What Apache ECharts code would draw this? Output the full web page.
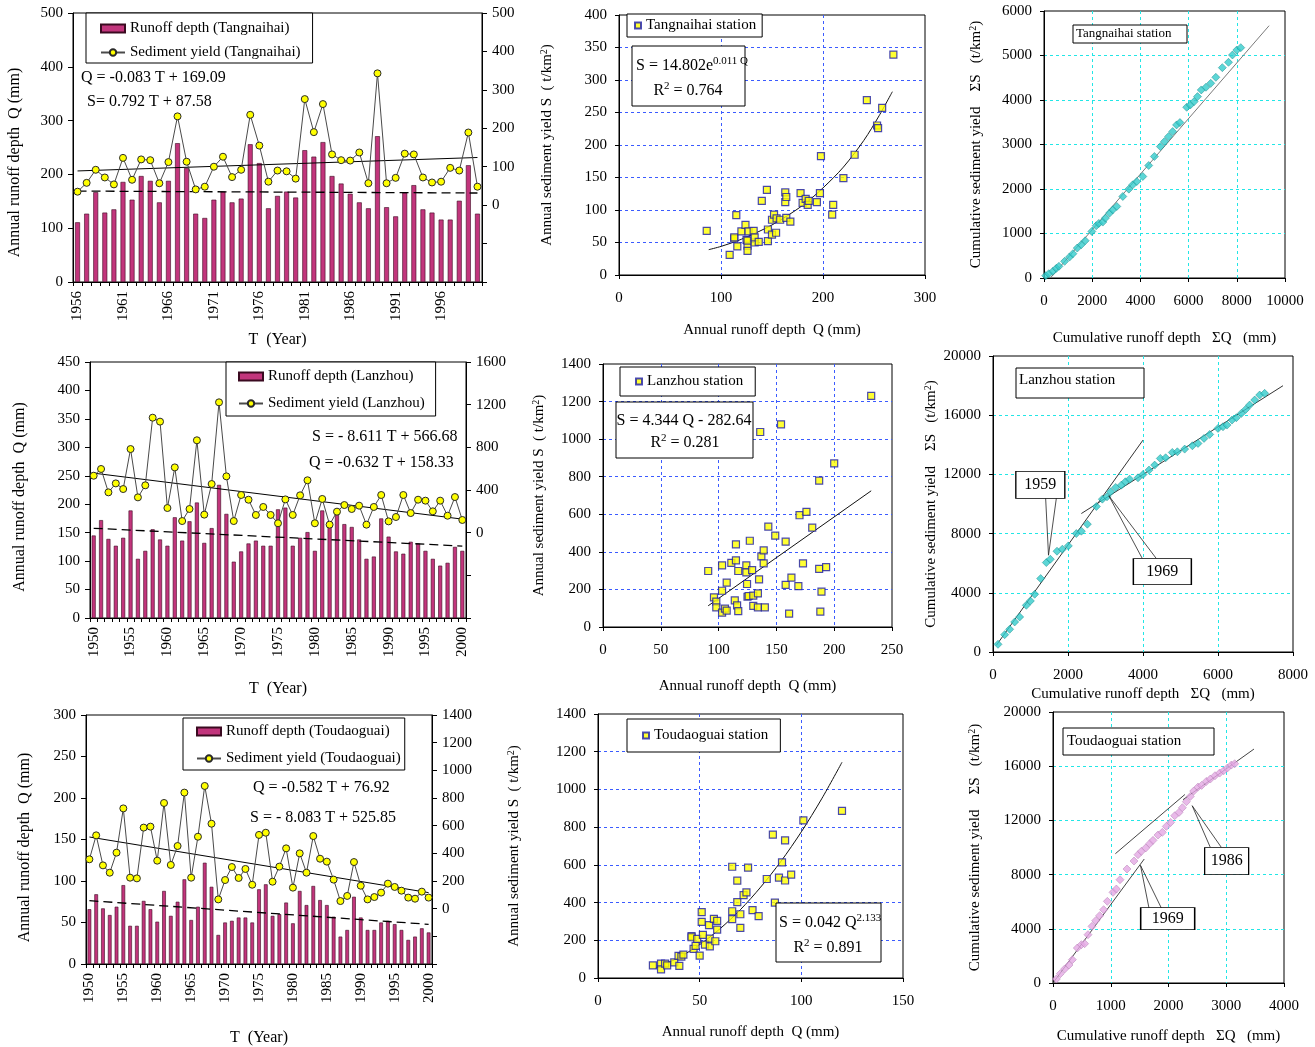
<!DOCTYPE html>
<html><head><meta charset="utf-8">
<script src="https://cdn.jsdelivr.net/npm/echarts@6/dist/echarts.min.js"></script>
<style>html,body{margin:0;padding:0;background:#fff}#c{width:1315px;height:1047px}</style>
</head><body><div id="c"></div>
<script>
// ---------------- DATA ----------------
const yearsTang = []; for (let y = 1956; y <= 2000; y++) yearsTang.push(String(y));
const yearsLan = [];  for (let y = 1950; y <= 2000; y++) yearsLan.push(String(y));

// Tangnaihai annual runoff depth (mm) and sediment yield (t/km2)
const tangQ = [111,127,167,129,135,186,153,197,188,148,188,258,212,127,119,153,168,148,155,256,221,137,160,168,157,245,233,260,197,183,164,148,137,271,139,122,166,180,135,129,116,116,151,217,127];
const tangS = [35,58,92,72,54,123,66,119,117,57,112,231,113,41,48,100,126,73,92,235,155,61,90,88,69,276,190,263,132,117,116,137,57,343,57,71,134,132,72,59,61,97,90,189,48];
const tangTrendQ = [169.0, 165.4];
const tangTrendS = [89, 124];

// Lanzhou
const lanQ = [145,172,139,127,141,189,104,118,156,138,127,177,136,170,203,132,158,234,183,99,117,131,136,127,127,191,194,127,141,151,118,189,160,182,165,160,138,104,108,175,143,117,113,134,131,118,104,92,97,125,118];
const lanS = [534,597,378,462,409,784,331,444,1078,1041,231,612,109,222,866,169,456,1222,528,109,353,309,166,241,166,88,312,166,350,491,88,316,75,197,259,222,253,75,241,353,106,147,353,184,309,300,200,300,159,334,119];
const lanTrendQ = [157.7, 126.5];
const lanTrendS = [558, 127];

// Toudaoguai
const touQ = [66,84,67,59,69,95,46,46,76,66,51,88,58,75,102,53,69,122,93,35,50,52,56,56,50,90,96,58,60,74,49,88,71,94,77,71,57,33,41,81,56,41,41,50,52,48,41,29,33,43,38];
const touS = [357,530,313,260,405,725,224,219,586,593,347,764,316,453,839,224,520,887,614,67,207,301,222,287,173,533,549,195,304,436,152,400,260,525,361,340,210,55,92,337,166,67,84,116,181,157,130,80,72,123,80];
const touTrendQ = [76.3, 47.8];
const touTrendS = [518, 116];

// Scatter: annual S vs annual Q
const tangScQ = [86,108.5,113,113,115,116,120,124,125,126,126,127,126,132,133,133,137,140,145,146,146,150,150,152,154,154.5,158,163,163,164,164,168,178,180,183,185,186,194,197,198,209,210,220,231,243,253,254,258,269];
const tangScS = [68,31,56,58,92,44,67,77,54,45,37,67,53,68,50,58,51,114,131,70,52,85,62,93,65,87,85,112,127,120,88,82,126,111,117,108,114,112,126,183,93,108,149,185,269,230,226,257,339];
const tangFitQ = [88,100,120,150,180,200,220,240,255,268];
const tangFitS = [39,44,55,77,107,134,166,207,245,282];

const lanScQ = [91,96,98,98,103,103,103,105.5,107,107,111,115,115,114,116,117,117,124,124,124.6,125,127,126,129,130,130,134,134,135,136,137,139,139,140,143,149,154,158,158,161,163,169,170,173,176,181,187,187,188,189,193,200,232];
const lanScS = [298,158,135,105,328,193,76,98,87,236,341,355,440,142,115,298,85,328,291,229,161,459,165,303,112,167,179,105,254,1038,376,408,339,105,534,486,1079,454,224,71,263,218,595,339,613,529,779,309,82,188,319,871,1230];
const lanFitQ = [91, 232];
const lanFitS = [113, 725];

const touScQ = [27,31,31,33,34,37.5,39.6,40,41,42,46,46,47,48,48.8,50,51,51,51.6,52.6,54.6,55,55,57,57.7,58.6,58.6,66,66,66,68.5,68.5,70,70,71.6,73,73.8,76,79,83,86,87,89,90.5,92,92,95,101,120];
const touScS = [67,76,46,76,67,83,117,64,113,124,222,216,154,170,207,119,349,298,229,177,280,209,168,314,195,303,257,590,354,312,516,402,338,266,439,454,585,360,328,525,760,400,532,613,730,517,548,836,886];
const touFitQ = [28,40,50,60,70,80,90,100,110,120];
const touFitS = [51,110,177,261,362,482,619,775,950,1144];

// Cumulative (double mass) curves
const tangCumQ = [70,200,370,510,620,855,1060,1200,1380,1545,1710,1985,2165,2275,2440,2550,2720,2855,3020,3270,3520,3680,3850,4100,4345,4580,4830,5000,5170,5340,5500,5640,5920,6070,6230,6370,6525,6720,6920,7130,7400,7655,7820,8000,8165];
const tangCumS = [52,97,150,217,262,374,471,546,673,748,838,1047,1174,1227,1257,1346,1458,1533,1608,1832,1997,2094,2169,2281,2528,2730,2954,3066,3179,3291,3440,3493,3837,3889,3964,4076,4226,4286,4375,4510,4727,4847,5011,5123,5176];
const tangCumFitQ = [262, 9340];
const tangCumFitS = [0, 5670];

const lanCumQ = [133,311,444,578,711,889,996,1111,1271,1422,1529,1707,1849,2009,2222,2356,2516,2756,2916,3040,3138,3271,3422,3529,3644,3867,4000,4160,4311,4462,4604,4782,4916,5111,5316,5467,5627,5778,6000,6133,6240,6373,6489,6622,6738,6844,6978,7111,7244];
const lanCumS = [519,1172,1533,2030,2368,3157,3450,3900,4960,6043,6268,6810,6945,7170,8004,8162,8636,9831,10327,10485,10823,11116,11274,11500,11680,11770,11995,12289,12627,13078,13123,13484,13529,13709,13935,14093,14431,14701,15107,15220,15333,15671,15829,16122,16393,16686,17024,17362,17475];
const lanCumFit1Q = [89, 4000],  lanCumFit1S = [451, 14318];
const lanCumFit2Q = [2356, 7733], lanCumFit2S = [9357, 17993];

const touCumQ = [58,127,202,277,335,421,491,548,606,675,739,808,877,941,1039,1097,1160,1281,1403,1472,1530,1605,1674,1732,1818,1893,1962,2037,2107,2182,2240,2309,2378,2436,2511,2574,2655,2724,2805,2886,2955,3019,3088,3146];
const touCumS = [295,689,1033,1328,1722,2582,2828,2902,3566,4181,4599,4968,5411,6026,6690,6936,7624,8411,9002,9469,9715,9961,10281,10526,10920,11117,11559,11854,12346,12592,12937,13379,13773,14166,14461,14584,14879,15052,15298,15494,15666,15863,16085,16183];
const touCumFit1Q = [0, 1580],    touCumFit1S = [0, 9150];
const touCumFit2Q = [1080, 2284], touCumFit2S = [9542, 13911];
const touCumFit3Q = [2251, 3480], touCumFit3S = [13527, 17265];

// Callouts: label, box centre (data), leader starts (data), target (data)
const lanCallouts = [
  {label: '1959', box: [1262, 11296], size: [49, 27], from: [[1404, 10385], [1689, 10385]], to: [1480, 6540]},
  {label: '1969', box: [4516, 5434], size: [58, 26], from: [[3982, 6313], [4356, 6313]], to: [3090, 10552]}
];
const touCallouts = [
  {label: '1969', box: [1986, 4747], size: [54, 22], from: [[1662, 5534], [1876, 5534]], to: [1515, 8682]},
  {label: '1986', box: [3007, 9002], size: [44, 27], from: [[2724, 10010], [2915, 10010]], to: [2410, 13084]}
];

// ---------------- HELPERS ----------------
const FONT = 'Liberation Serif';
const BLACK = '#000';
function pairs(xs, ys) { return xs.map((x, i) => [x, ys[i]]); }
function trendData(n, ends) { const a = new Array(n).fill(null); a[0] = ends[0]; a[n - 1] = ends[1]; return a; }
function ts(size, extra) { return Object.assign({color: BLACK, fontFamily: FONT, fontSize: size}, extra || {}); }
const plain = v => String(v);
const supRich = {s: {fontSize: 10, verticalAlign: 'top', fontFamily: FONT, color: BLACK, padding: [0, 0, 6, 0]}};

const grids = [
  {left: 73,   top: 13,  width: 409, height: 269},
  {left: 90,   top: 362, width: 376, height: 256},
  {left: 86,   top: 715, width: 346, height: 250},
  {left: 619,  top: 15,  width: 306, height: 260},
  {left: 603,  top: 364, width: 289, height: 263},
  {left: 598,  top: 714, width: 305, height: 264},
  {left: 1044, top: 11,  width: 241, height: 267},
  {left: 993,  top: 356, width: 300, height: 296},
  {left: 1053, top: 712, width: 231, height: 271}
].map(g => Object.assign({show: true, borderColor: BLACK, borderWidth: 1, backgroundColor: 'rgba(0,0,0,0)'}, g));

function catX(gi, data, gap) {
  return {type: 'category', gridIndex: gi, data: data, boundaryGap: true,
    axisLine: {show: true, lineStyle: {color: BLACK}},
    axisTick: {show: true, interval: 0, length: 4, lineStyle: {color: BLACK}},
    axisLabel: {interval: 4, rotate: 90, margin: 9, color: BLACK, fontFamily: FONT, fontSize: 15},
    splitLine: {show: false},
    name: 'T  (Year)', nameLocation: 'middle', nameGap: gap, nameTextStyle: ts(16)};
}
function tsY(gi, min, max, interval, pos, name, gap, shift) {
  const o = {type: 'value', gridIndex: gi, min, max, interval, position: pos,
    axisLine: {show: true, lineStyle: {color: BLACK}},
    axisTick: {show: true, inside: false, length: 5, lineStyle: {color: BLACK}},
    axisLabel: {color: BLACK, fontFamily: FONT, fontSize: 15, margin: 10,
      formatter: v => (v < 0 ? '' : String(v))},
    splitLine: {show: false}};
  if (name) { o.name = name; o.nameLocation = 'middle'; o.nameGap = gap;
    o.nameTextStyle = ts(16, {padding: [0, shift || 0, 0, 0]}); }
  return o;
}
function valAxis(gi, min, max, interval, isX, gridColor, name, gap, extra) {
  const o = {type: 'value', gridIndex: gi, min, max, interval,
    axisLine: {show: true, lineStyle: {color: BLACK}},
    axisTick: {show: true, inside: false, length: 4, lineStyle: {color: BLACK}},
    axisLabel: {color: BLACK, fontFamily: FONT, fontSize: 15, margin: isX ? 16 : 12, formatter: plain},
    splitLine: {show: true, showMinLine: false, showMaxLine: false,
      lineStyle: {color: gridColor, type: [3, 3], width: 1}},
    name: name, nameLocation: 'middle', nameGap: gap,
    nameTextStyle: ts(15, {rich: supRich})};
  return Object.assign(o, extra || {});
}

const BAR = {color: '#c2357c', borderColor: '#3a0a20', borderWidth: 0.6};
const DOT = {color: '#ffff00', borderColor: '#2a2a2a', borderWidth: 1};
const SQ = {color: '#ffff00', borderColor: '#1c1ca8', borderWidth: 1.2};

function tsSeries(xi, yl, yr, nameQ, nameS, Q, S, tQ, tS) {
  const n = Q.length;
  return [
    {type: 'bar', name: nameQ, xAxisIndex: xi, yAxisIndex: yl, data: Q, barWidth: '54%',
      itemStyle: BAR, silent: true, z: 2},
    {type: 'line', name: 'tq' + xi, xAxisIndex: xi, yAxisIndex: yl, data: trendData(n, tQ),
      connectNulls: true, showSymbol: false, silent: true, z: 3,
      lineStyle: {color: BLACK, width: 1.3, type: [9, 5]}},
    {type: 'line', name: 'ts' + xi, xAxisIndex: xi, yAxisIndex: yr, data: trendData(n, tS),
      connectNulls: true, showSymbol: false, silent: true, z: 3,
      lineStyle: {color: BLACK, width: 1}},
    {type: 'line', name: nameS, xAxisIndex: xi, yAxisIndex: yr, data: S,
      symbol: 'circle', symbolSize: 7, showSymbol: true, showAllSymbol: true, itemStyle: DOT,
      lineStyle: {color: '#4a4a4a', width: 1}, silent: true, z: 4}
  ];
}
function tsLegend(left, top, nameQ, nameS, gap, padding) {
  return {show: true, orient: 'vertical', left, top, selectedMode: false,
    data: [{name: nameQ, icon: 'rect'}, {name: nameS}],
    itemWidth: 24, itemHeight: 8, itemGap: gap, padding: padding,
    borderColor: BLACK, borderWidth: 1, backgroundColor: '#fff',
    textStyle: ts(15)};
}
function scLegend(left, top, name, padding) {
  return {show: true, orient: 'vertical', left, top, selectedMode: false,
    data: [{name: name, icon: 'rect'}], itemWidth: 6, itemHeight: 6,
    padding: padding, borderColor: BLACK, borderWidth: 1, backgroundColor: '#fff',
    textStyle: ts(15)};
}
function fitLine(xi, yi, xs, ys, color, smooth, extra) {
  return Object.assign({type: 'line', name: 'fit' + xi + '_' + xs[0], xAxisIndex: xi, yAxisIndex: yi,
    data: pairs(xs, ys), smooth: smooth ? 0.3 : false, showSymbol: false, silent: true, z: 3,
    lineStyle: {color: color, width: 1}}, extra || {});
}
function calloutLines(list) {
  const d = [];
  list.forEach(c => c.from.forEach(f => d.push([{coord: f}, {coord: c.to}])));
  return {silent: true, symbol: ['none', 'none'], label: {show: false},
    lineStyle: {color: '#222', width: 0.8, type: 'solid'}, data: d, animation: false};
}
function calloutBoxes(list) {
  return {silent: true, animation: false,
    data: list.map(c => ({coord: c.box, symbol: 'rect', symbolSize: c.size,
      itemStyle: {color: '#fff', borderColor: BLACK, borderWidth: 1},
      label: {show: true, position: 'inside', formatter: c.label, color: BLACK, fontFamily: FONT, fontSize: 16}}))};
}

// ---------------- GRAPHICS (text boxes) ----------------
const G = [];
function rectBox(x, y, w, h) { G.push({type: 'rect', shape: {x, y, width: w, height: h}, style: {fill: '#fff', stroke: BLACK, lineWidth: 1}, z: 50}); }
function label(x, y, text, size, align, rich) {
  G.push({type: 'text', x, y, z: 51, style: {text, fill: BLACK, fontFamily: FONT, fontSize: size,
    align: align || 'left', verticalAlign: 'middle', rich: rich}});
}
const eqRich = {m: {fontSize: 16, fontFamily: FONT, fill: BLACK, lineHeight: 20}, s: {fontSize: 11, fontFamily: FONT, fill: BLACK, verticalAlign: 'top', lineHeight: 20}};
// time-series equations
label(81, 78, 'Q = -0.083 T + 169.09', 16);
label(87, 102, 'S= 0.792 T + 87.58', 16);
label(312, 437, 'S = - 8.611 T + 566.68', 16);
label(309, 463, 'Q = -0.632 T + 158.33', 16);
label(253, 788, 'Q = -0.582 T + 76.92', 16);
label(250, 818, 'S = - 8.083 T + 525.85', 16);
// scatter equation boxes
rectBox(632, 46, 113, 60);
label(636, 66, '{m|S = 14.802e}{s|0.011 Q}', 16, 'left', eqRich);
label(688, 91, '{m|R}{s|2}{m| = 0.764}', 16, 'center', eqRich);
rectBox(616, 402, 137, 56);
label(684, 421, '{m|S = 4.344 Q - 282.64}', 16, 'center', eqRich);
label(685, 443, '{m|R}{s|2}{m| = 0.281}', 16, 'center', eqRich);
rectBox(776, 903, 105, 59);
label(779, 923, '{m|S = 0.042 Q}{s|2.133}', 16, 'left', eqRich);
label(828, 948, '{m|R}{s|2}{m| = 0.891}', 16, 'center', eqRich);
// station boxes (cumulative panels)
rectBox(1073, 25, 114, 18);
label(1076, 34, 'Tangnaihai station', 13);
rectBox(1016, 368, 128, 30);
label(1019, 380, 'Lanzhou station', 15);
rectBox(1063, 728, 151, 27);
label(1067, 741, 'Toudaoguai station', 15);

// ---------------- OPTION ----------------
const cumYName = 'Cumulative sediment yield    ΣS   (t/km{s|2})';
const cumXName = 'Cumulative runoff depth   ΣQ   (mm)';
const scYName = 'Annual sediment yield S  ( t/km{s|2})';
const scXName = 'Annual runoff depth  Q (mm)';

const option = {
  animation: false,
  backgroundColor: '#fff',
  textStyle: {fontFamily: FONT},
  grid: grids,
  xAxis: [
    catX(0, yearsTang, 50),
    catX(1, yearsLan, 63),
    catX(2, yearsLan, 66),
    valAxis(3, 0, 300, 100, true, '#3b5bff', scXName, 48),
    valAxis(4, 0, 250, 50, true, '#3b5bff', scXName, 52),
    valAxis(5, 0, 150, 50, true, '#3b5bff', scXName, 47),
    valAxis(6, 0, 10000, 2000, true, '#22e6e6', cumXName, 53),
    valAxis(7, 0, 8000, 2000, true, '#22e6e6', cumXName, 35),
    valAxis(8, 0, 4000, 1000, true, '#22e6e6', cumXName, 46)
  ],
  yAxis: [
    tsY(0, 0, 500, 100, 'left', 'Annual runoff depth  Q (mm)', 50, 30),
    tsY(0, -200, 500, 100, 'right'),
    tsY(1, 0, 450, 50, 'left', 'Annual runoff depth  Q (mm)', 62, 14),
    tsY(1, -800, 1600, 400, 'right'),
    tsY(2, 0, 300, 50, 'left', 'Annual runoff depth  Q (mm)', 53, 16),
    tsY(2, -400, 1400, 200, 'right'),
    valAxis(3, 0, 400, 50, false, '#3b5bff', scYName, 64),
    valAxis(4, 0, 1400, 200, false, '#3b5bff', scYName, 56),
    valAxis(5, 0, 1400, 200, false, '#3b5bff', scYName, 76),
    valAxis(6, 0, 6000, 1000, false, '#22e6e6', cumYName, 60),
    valAxis(7, 0, 20000, 4000, false, '#22e6e6', cumYName, 54),
    valAxis(8, 0, 20000, 4000, false, '#22e6e6', cumYName, 70)
  ],
  legend: [
    tsLegend(86, 13, 'Runoff depth (Tangnaihai)', 'Sediment yield (Tangnaihai)', 9, [8, 12, 3, 14]),
    tsLegend(226, 362, 'Runoff depth (Lanzhou)', 'Sediment yield (Lanzhou)', 12, [7, 11, 5, 12]),
    tsLegend(183, 718, 'Runoff depth (Toudaoguai)', 'Sediment yield (Toudaoguai)', 12, [6, 4, 4, 13]),
    scLegend(627, 14, 'Tangnaihai station', [4, 6, 4, 7]),
    scLegend(620, 367, 'Lanzhou station', [7, 12, 7, 15]),
    scLegend(627, 719, 'Toudaoguai station', [9, 12, 9, 15])
  ],
  graphic: {elements: G},
  series: [].concat(
    tsSeries(0, 0, 1, 'Runoff depth (Tangnaihai)', 'Sediment yield (Tangnaihai)', tangQ, tangS, tangTrendQ, tangTrendS),
    tsSeries(1, 2, 3, 'Runoff depth (Lanzhou)', 'Sediment yield (Lanzhou)', lanQ, lanS, lanTrendQ, lanTrendS),
    tsSeries(2, 4, 5, 'Runoff depth (Toudaoguai)', 'Sediment yield (Toudaoguai)', touQ, touS, touTrendQ, touTrendS),
    [
      fitLine(3, 6, tangFitQ, tangFitS, '#111', true),
      {type: 'scatter', name: 'Tangnaihai station', xAxisIndex: 3, yAxisIndex: 6, data: pairs(tangScQ, tangScS),
        symbol: 'rect', symbolSize: 7, itemStyle: SQ, silent: true, z: 4},
      fitLine(4, 7, lanFitQ, lanFitS, '#111', false),
      {type: 'scatter', name: 'Lanzhou station', xAxisIndex: 4, yAxisIndex: 7, data: pairs(lanScQ, lanScS),
        symbol: 'rect', symbolSize: 7, itemStyle: SQ, silent: true, z: 4},
      fitLine(5, 8, touFitQ, touFitS, '#111', true),
      {type: 'scatter', name: 'Toudaoguai station', xAxisIndex: 5, yAxisIndex: 8, data: pairs(touScQ, touScS),
        symbol: 'rect', symbolSize: 7, itemStyle: SQ, silent: true, z: 4},

      fitLine(6, 9, tangCumFitQ, tangCumFitS, '#7a7a7a', false),
      {type: 'scatter', name: 'cumTang', xAxisIndex: 6, yAxisIndex: 9, data: pairs(tangCumQ, tangCumS),
        symbol: 'diamond', symbolSize: 8, itemStyle: {color: '#33cccc', borderColor: '#138a8a', borderWidth: 0.6}, silent: true, z: 4},

      fitLine(7, 10, lanCumFit1Q, lanCumFit1S, '#333', false, {markLine: calloutLines(lanCallouts)}),
      fitLine(7, 10, lanCumFit2Q, lanCumFit2S, '#333', false),
      {type: 'scatter', name: 'cumLan', xAxisIndex: 7, yAxisIndex: 10, data: pairs(lanCumQ, lanCumS),
        symbol: 'diamond', symbolSize: 8, itemStyle: {color: '#33cccc', borderColor: '#138a8a', borderWidth: 0.6}, silent: true, z: 4,
        markPoint: calloutBoxes(lanCallouts)},

      fitLine(8, 11, touCumFit1Q, touCumFit1S, '#444', false, {markLine: calloutLines(touCallouts)}),
      fitLine(8, 11, touCumFit2Q, touCumFit2S, '#444', false),
      fitLine(8, 11, touCumFit3Q, touCumFit3S, '#444', false),
      {type: 'scatter', name: 'cumTou', xAxisIndex: 8, yAxisIndex: 11, data: pairs(touCumQ, touCumS),
        symbol: 'diamond', symbolSize: 8, itemStyle: {color: '#e4a8e4', borderColor: '#b07ab0', borderWidth: 0.6}, silent: true, z: 4,
        markPoint: calloutBoxes(touCallouts)}
    ]
  )
};

const chart = echarts.init(document.getElementById('c'), null, {renderer: 'canvas', width: 1315, height: 1047});
chart.setOption(option);
</script></body></html>
